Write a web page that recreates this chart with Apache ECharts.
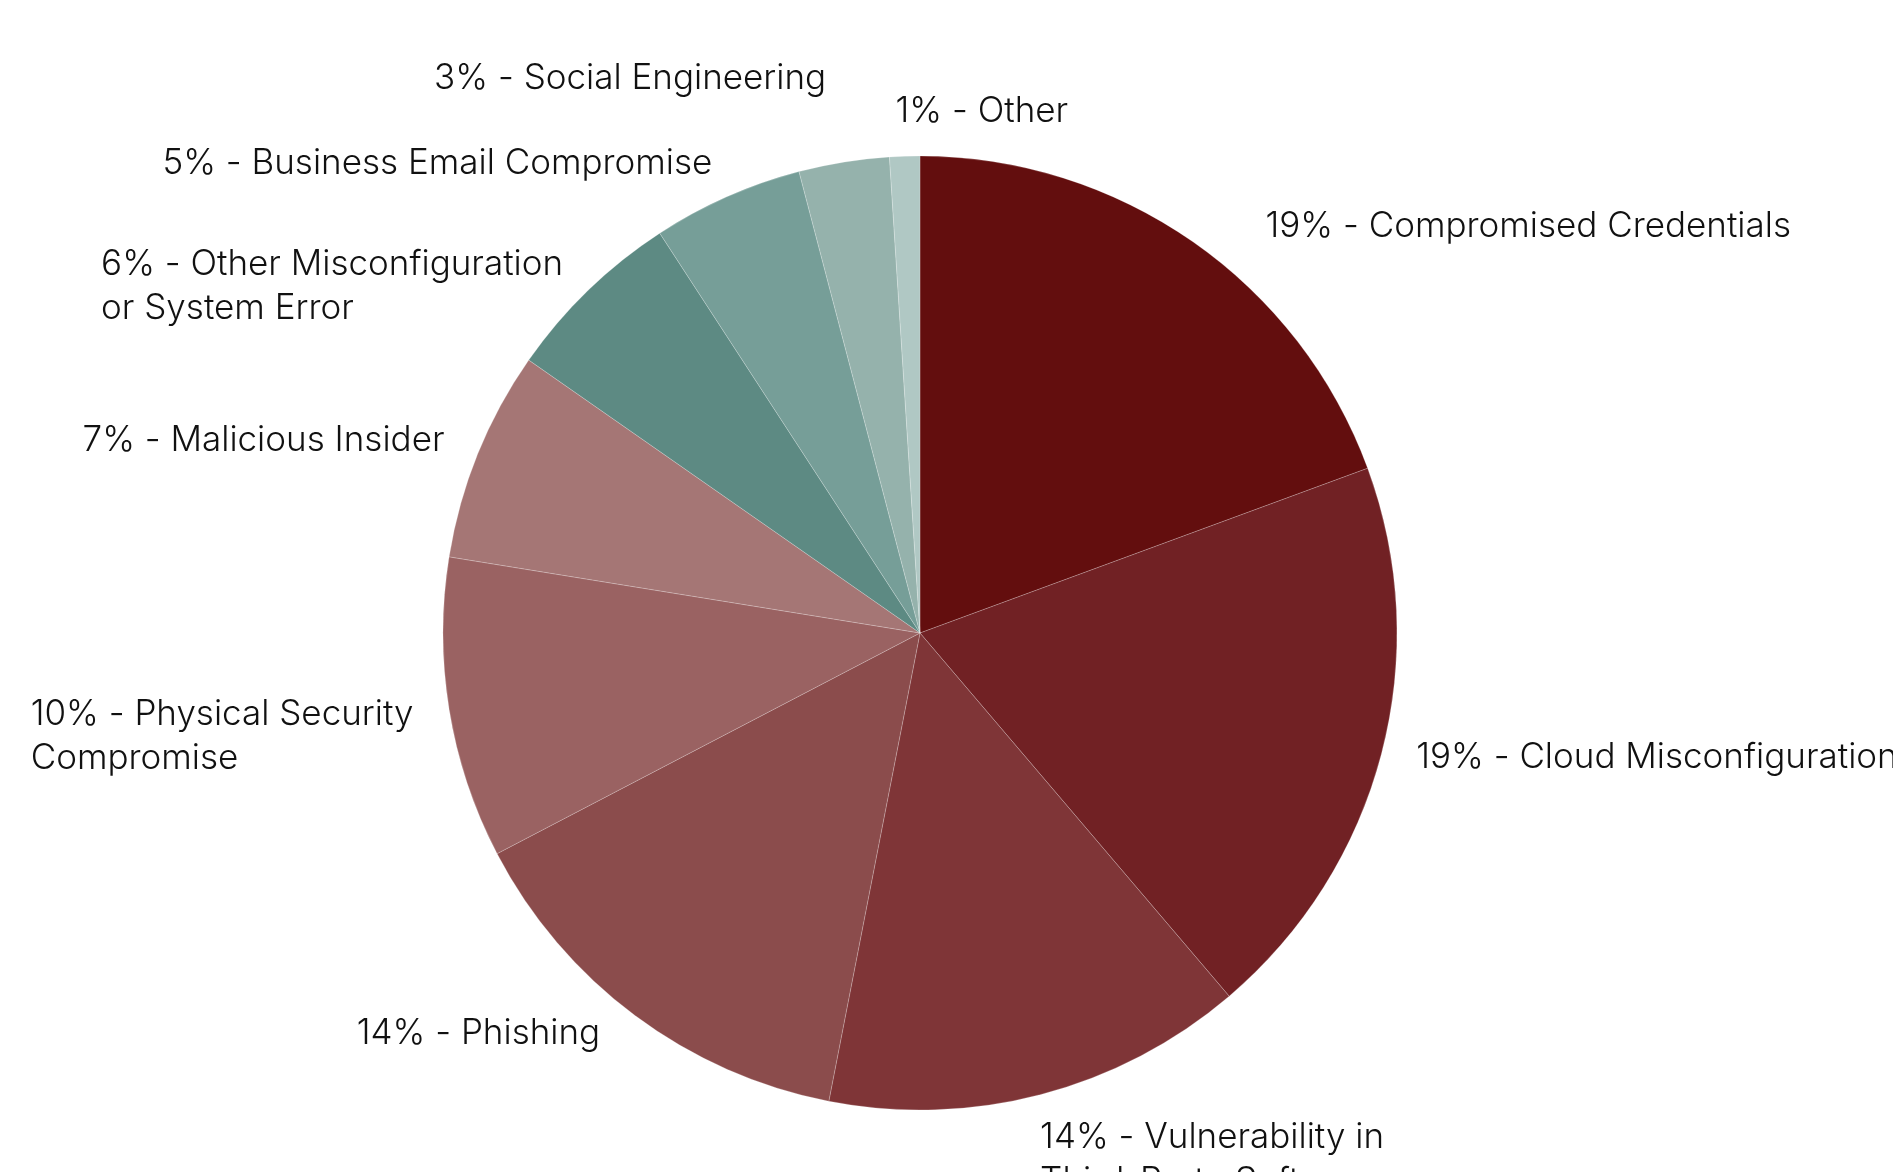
<!DOCTYPE html>
<html>
<head>
<meta charset="utf-8">
<script src="https://cdn.jsdelivr.net/npm/echarts@6/dist/echarts.min.js"></script>
<style>
  html, body { margin: 0; padding: 0; background: #ffffff; }
  #chart { width: 1893px; height: 1172px; }
</style>
</head>
<body>
<div id="chart"></div>
<script>
// Breach root causes, share of incidents (%)
const categories = [
  'Compromised Credentials',
  'Cloud Misconfiguration',
  'Vulnerability in\nThird-Party Software',
  'Phishing',
  'Physical Security\nCompromise',
  'Malicious Insider',
  'Other Misconfiguration\nor System Error',
  'Business Email Compromise',
  'Social Engineering',
  'Other'
];
const shares = [19, 19, 14, 14, 10, 7, 6, 5, 3, 1];

// Slice fills: reds for the large causes, teals for the small ones
const sliceColors = [
  '#630e0e', '#712124', '#7f3537', '#8b4c4c', '#9a6262',
  '#a57675', '#5d8a83', '#769e98', '#95b2ac', '#b0c8c4'
];

// Small label offsets [dx, dy] so crowded labels near the top stay apart
const labelNudge = [
  [52, 14], [0, -6], [-10, 8], [-13, -11], [0, 0],
  [0, 0], [0, 0], [0, 0], [-12, -48], [-8, -9]
];
const LINE_H = 44;

const chart = echarts.init(document.getElementById('chart'), null, { renderer: 'canvas' });

chart.setOption({
  backgroundColor: '#ffffff',
  animation: false,
  series: [{
    type: 'pie',
    center: [920, 633],
    radius: [0, 477],
    startAngle: 90,
    clockwise: true,
    avoidLabelOverlap: false,
    itemStyle: {
      borderColor: 'rgba(255,255,255,0.35)',
      borderWidth: 0.6
    },
    label: {
      show: true,
      position: 'outside',
      formatter: p => p.value + '% - ' + p.name,
      fontFamily: 'Inter, "Liberation Sans", sans-serif',
      fontWeight: 300,
      fontSize: 35,
      lineHeight: LINE_H,
      color: '#111111',
      distanceToLabelLine: 0
    },
    labelLine: {
      show: false,
      length: 36,
      length2: 0
    },
    labelLayout: function (params) {
      const i = params.dataIndex;
      const lines = categories[i].split('\n').length;
      const out = {
        dx: labelNudge[i][0],
        dy: labelNudge[i][1] + (lines - 1) * LINE_H / 2
      };
      if (i === categories.length - 1) {
        out.align = 'left';
      } else if (params.align === 'right') {
        // keep the block's right edge in place but start every line flush left
        out.align = 'left';
        out.dx -= params.labelRect.width;
      }
      return out;
    },
    data: categories.map((name, i) => ({
      name: name,
      value: shares[i],
      itemStyle: { color: sliceColors[i] }
    }))
  }]
});
</script>
</body>
</html>
